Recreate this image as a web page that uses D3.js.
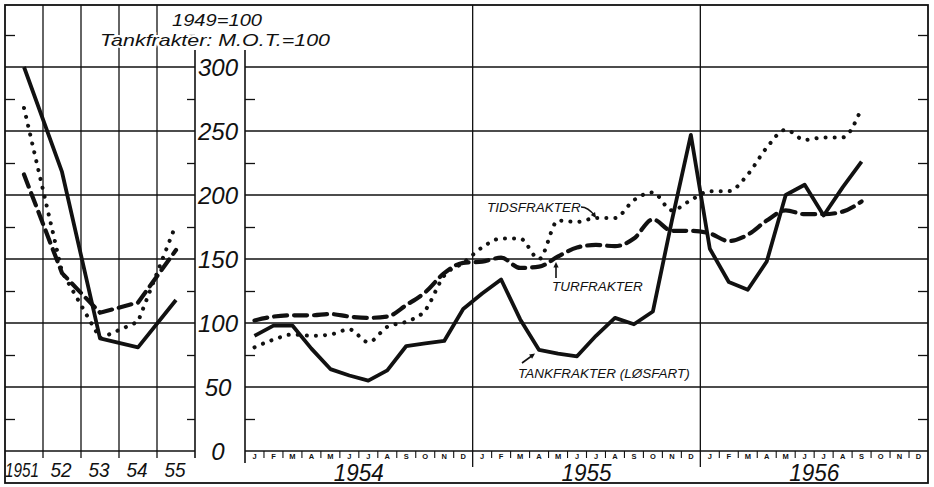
<!DOCTYPE html>
<html><head><meta charset="utf-8">
<script src="https://cdn.jsdelivr.net/npm/d3@7"></script>
<style>
body{margin:0;background:#fff}
svg{display:block}
text{font-family:'Liberation Sans',Arial,sans-serif;font-style:italic;fill:#111}
</style>
</head><body><svg id="c" width="934" height="487"></svg>
<script>
// ---- data ----
const years = ["1951","52","53","54","55"];
const annualTank = [300,218,88,81,118];
const annualTid  = [268,140,88,101,177];
const annualTur  = [216,139,108,116,157];
const monthLetters = ["J","F","M","A","M","J","J","A","S","O","N","D"];
const monthYears = ["1954","1955","1956"];
const tankMonthly = [90,98,98,80,64,59,55,63,82,84,86,111, 123,134,103,79,76,74,90,104,99,109,180,247, 158,132,126,148,200,208,184,206,226];
const tidMonthly  = [81,87,91,90,91,95,85,97,101,110,137,147, 159,166,166,150,180,179,182,182,196,202,188,196, 203,203,216,237,251,243,245,245,268];
const turMonthly  = [102,105,106,106,107,105,104,105,114,124,139,147, 148,151,143,144,152,159,161,160,166,181,172,172, 170,164,169,180,188,185,185,187,195];
const yTicks = [0,50,100,150,200,250,300];
const yMinor = [25,75,125,175,225,275,325];
const titleLines = ["1949=100","Tankfrakter: M.O.T.=100"];
const seriesLabels = ["TIDSFRAKTER","TURFRAKTER","TANKFRAKTER (LØSFART)"];

// ---- scales ----
const svg = d3.select("#c");
const ink = "#111";
const y = d3.scaleLinear().domain([0,350]).range([451,3]);
const xL = d3.scaleBand().domain(years).range([5,195]);
const months = monthYears.flatMap(yr => monthLetters.map((m,i)=>yr+"-"+i));
const xR = d3.scaleBand().domain(months).range([245,928]);
const cL = d => xL(d) + xL.bandwidth()/2;
const cR = d => xR(d) + xR.bandwidth()/2;

const g = svg.append("g");
function line(x1,y1,x2,y2,w){ g.append("line").attr("x1",x1).attr("y1",y1).attr("x2",x2).attr("y2",y2).attr("stroke",ink).attr("stroke-width",w||1.3); }

// horizontal grid
yTicks.forEach(v=>{ line(5,y(v),195,y(v)); line(245,y(v),928,y(v)); });
// left panel vertical grid
years.slice(1).forEach(yr=>line(xL(yr),5,xL(yr),458));
// right panel year boundaries
monthYears.slice(1).forEach(yr=>line(xR(yr+"-0"),5,xR(yr+"-0"),467));
// label column borders
line(195,50,195,458,1.6);
line(245,50,245,463,1.6);
// frame
g.append("rect").attr("x",5).attr("y",5).attr("width",923).attr("height",478).attr("fill","none").attr("stroke",ink).attr("stroke-width",1.8);

// minor ticks via axes
function minor(axis,x,size){
  const a = svg.append("g").attr("transform",`translate(${x},0)`).call(axis(y).tickValues(yMinor).tickSize(size).tickFormat(""));
  a.select(".domain").remove();
  a.selectAll("line").attr("stroke",ink).attr("stroke-width",1.3);
}
minor(d3.axisRight,5,10);
minor(d3.axisLeft,195,8);
minor(d3.axisRight,245,10);
minor(d3.axisLeft,928,10);

// y labels
svg.append("g").selectAll("text").data(yTicks).join("text")
  .attr("x",218).attr("y",d=>y(d)+8.5).attr("text-anchor","middle")
  .style("font-size","24px").text(d=>d);

// month strip
months.forEach((m,i)=>{
  if(i>0 && i%12!==0) line(xR(m),451,xR(m),458,1.1);
});
svg.append("g").selectAll("text").data(months).join("text")
  .attr("x",d=>cR(d)).attr("y",458.5).attr("text-anchor","middle")
  .style("font-size","7.5px").style("font-weight","bold").style("font-style","normal")
  .text((d,i)=>monthLetters[i%12]);
// year labels
svg.append("g").selectAll("text").data(monthYears).join("text")
  .attr("x",d=>xR(d+"-0")+xR.step()*6).attr("y",481).attr("text-anchor","middle")
  .style("font-size","23px").attr("textLength",50).attr("lengthAdjust","spacingAndGlyphs").text(d=>d);
svg.append("g").selectAll("text").data(years).join("text")
  .attr("x",(d,i)=>i===0?22:cL(d)-1).attr("y",477).attr("text-anchor","middle")
  .style("font-size","21px").attr("textLength",(d,i)=>i===0?34:21).attr("lengthAdjust","spacingAndGlyphs").text(d=>d);

// ---- series ----
function draw(data,xf,keys,style,curve){
  const ln = d3.line().x((d,i)=>xf(keys[i])).y(d=>y(d)).curve(curve||d3.curveLinear);
  const p = svg.append("path").attr("d",ln(data)).attr("fill","none").attr("stroke",ink);
  if(style==="solid") p.attr("stroke-width",3.8).attr("stroke-linejoin","round");
  if(style==="dash") p.attr("stroke-width",4.2).attr("stroke-dasharray","13,7").attr("stroke-linecap","round");
  if(style==="dot") p.attr("stroke-width",4).attr("stroke-dasharray","0.1,9").attr("stroke-linecap","round");
}
const mk = months.slice(0,tankMonthly.length);
draw(annualTur,cL,years,"dash");
draw(annualTid,cL,years,"dot");
draw(annualTank,cL,years,"solid");
draw(turMonthly,cR,mk,"dash",d3.curveMonotoneX);
draw(tidMonthly,cR,mk,"dot",d3.curveMonotoneX);
draw(tankMonthly,cR,mk,"solid");

// ---- title ----
const tt = svg.append("g");
tt.append("text").attr("x",172).attr("y",26).style("font-size","17px")
  .attr("textLength",90).attr("lengthAdjust","spacingAndGlyphs").text(titleLines[0]);
tt.append("text").attr("x",100).attr("y",45.5).style("font-size","17px")
  .attr("textLength",230).attr("lengthAdjust","spacingAndGlyphs").text(titleLines[1]);
tt.selectAll("text").attr("stroke","#fff").attr("stroke-width",4).attr("paint-order","stroke");

// ---- series labels with arrows ----
const lab = svg.append("g");
lab.append("text").attr("x",487).attr("y",212).style("font-size","13.5px").text(seriesLabels[0]);
lab.append("text").attr("x",552).attr("y",291).style("font-size","13.5px").text(seriesLabels[1]);
lab.append("text").attr("x",518).attr("y",378).style("font-size","13.5px").text(seriesLabels[2]);
function arrow(d,hx,hy,ang){
  svg.append("path").attr("d",d).attr("fill","none").attr("stroke",ink).attr("stroke-width",1.6);
  const a = ang*Math.PI/180, L=6, s=0.45;
  const p1=[hx-L*Math.cos(a-s),hy-L*Math.sin(a-s)], p2=[hx-L*Math.cos(a+s),hy-L*Math.sin(a+s)];
  svg.append("path").attr("d",`M${hx},${hy}L${p1}L${p2}Z`).attr("fill",ink);
}
arrow("M581,207 Q588,207 595,216",596,218,55);
arrow("M556,278 L556,264",556,262,-90);
arrow("M522,363 L533,355",535,353.5,-35);
</script>
</body></html>
